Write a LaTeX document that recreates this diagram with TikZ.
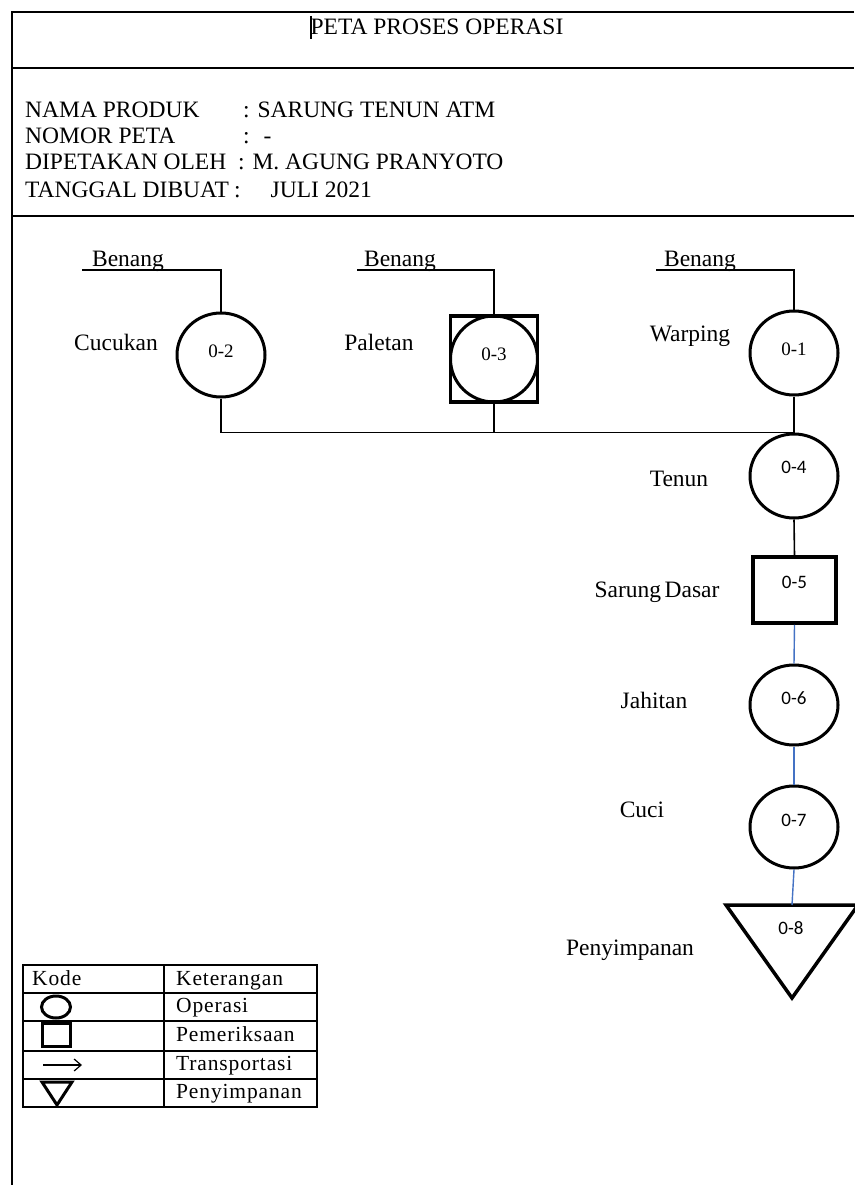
\documentclass[tikz,border=0pt]{standalone}
\usepackage{fontspec}
\setmainfont{Liberation Serif}
\newfontfamily\labsans{Carlito}
\newfontfamily\legfont[LetterSpace=4]{Liberation Serif}
\usetikzlibrary{shapes.geometric,arrows.meta}
\definecolor{bluel}{HTML}{4472C4}
\begin{document}
\begin{tikzpicture}[x=1pt,y=-1pt,
  frame/.style={line width=1.8pt},
  conn/.style={line width=1.6pt},
  bconn/.style={line width=1.4pt, draw=bluel},
  opcirc/.style={ellipse, draw, line width=3pt, minimum width=88pt, minimum height=84pt, inner sep=0pt},
  insp/.style={rectangle, draw, line width=3.5pt, inner sep=0pt},
  lbl/.style={font=\fontsize{23.5}{28}\selectfont, inner sep=0pt},
  numser/.style={font=\fontsize{19}{21}\selectfont},
  numsans/.style={font=\labsans\fontsize{19}{22}\selectfont},
  legtxt/.style={font=\legfont\fontsize{21.5}{26}\selectfont, anchor=base west, inner sep=0pt},
  grid/.style={line width=1.8pt},
]
\fill[white] (0,0) rectangle (854,1185);
\useasboundingbox (0,0) rectangle (854,1185);

% frame
\draw[frame] (854,12) -- (12,12) -- (12,1185);
\draw[frame] (12,68) -- (854,68);
\draw[frame] (12,216) -- (854,216);

% header
\node[lbl] (title) at (437,27) {PETA PROSES OPERASI};
\coordinate (cur1) at (311,16);
\coordinate (cur2) at (311,39);
\draw[line width=2pt] (cur1) -- (cur2);

\node[lbl, anchor=base west] (k1) at (25,118) {NAMA PRODUK};
\node[lbl, anchor=base west] (v1) at (243,118) {: SARUNG TENUN ATM};
\node[lbl, anchor=base west] (k2) at (25,144) {NOMOR PETA};
\node[lbl, anchor=base west] (v2) at (243,144) {:\hspace{14pt}-};
\node[lbl, anchor=base west] (k3) at (25,170) {DIPETAKAN OLEH};
\node[lbl, anchor=base west] (v3) at (238,170) {: M. AGUNG PRANYOTO};
\node[lbl, anchor=base west] (k4) at (25,197) {TANGGAL DIBUAT};
\node[lbl, anchor=base west] (v4) at (234,197) {:\hspace{30pt}JULI 2021};

% process symbols
\node[opcirc, label={[numser, yshift=4pt]center:0-2}] (c02) at (221,355) {};
\node[insp, minimum width=87pt, minimum height=86pt] (s03) at (494,359) {};
\node[opcirc, minimum width=87pt, minimum height=86pt, label={[numser, yshift=5pt]center:0-3}] (c03) at (494,359) {};
\node[opcirc, label={[numser, yshift=4pt]center:0-1}] (c01) at (794,353) {};
\node[opcirc, label={[numsans, yshift=9pt]center:0-4}] (c04) at (794,476) {};
\node[insp, minimum width=83pt, minimum height=66pt, label={[numsans, yshift=8pt]center:0-5}] (s05) at (794.5,590) {};
\node[opcirc, minimum height=80pt, label={[numsans, yshift=7pt]center:0-6}] (c06) at (794,705) {};
\node[opcirc, minimum height=82pt, label={[numsans, yshift=7pt]center:0-7}] (c07) at (794,827) {};
\coordinate (t08) at (792,905);
\coordinate (t08l) at (726,905);
\coordinate (t08r) at (858,905);
\coordinate (t08b) at (792,998);
\draw[line width=3.5pt, line join=miter] (t08l) -- (t08r) -- (t08b) -- cycle;
\node[numsans] (n08) at (791,928) {0-8};

% labels
\node[lbl] (lcucukan) at (116,342) {Cucukan};
\node[lbl] (lpaletan) at (379,342) {Paletan};
\node[lbl] (lwarping) at (690,336) {Warping};
\node[lbl] (ltenun) at (679,479) {Tenun};
\node[lbl] (lsarung) at (657,592) {Sarung\hspace{3.5pt}Dasar};
\node[lbl] (ljahitan) at (654,700) {Jahitan};
\node[lbl] (lcuci) at (642,810) {Cuci};
\node[lbl] (lpenyimpanan) at (630,950) {Penyimpanan};

% Benang inputs
\node[lbl, anchor=base] (b1) at (128,266) {Benang};
\node[lbl, anchor=base] (b2) at (400,266) {Benang};
\node[lbl, anchor=base] (b3) at (700,266) {Benang};
\coordinate (b1s) at (82,270);
\coordinate (b2s) at (357,270);
\coordinate (b3s) at (656,270);
\draw[conn] (b1s) -| (c02.north);
\draw[conn] (b2s) -| (s03.north);
\draw[conn] (b3s) -| (c01.north);

% connectors
\draw[conn] (c02.south) |- (c04.north);
\draw[conn] (s03.south) -- (s03.south |- c04.north);
\draw[conn] (c01.south) -- (c04.north);
\draw[conn] (c04.south) -- (s05.north);
\draw[bconn] (s05.south) -- (c06.north);
\draw[bconn] (c06.south) -- (c07.north);
\draw[bconn] (c07.south) -- (t08);

% legend
\draw[grid] (23,965) rectangle (317,1107);
\draw[grid] (23,993) -- (317,993);
\draw[grid] (23,1021) -- (317,1021);
\draw[grid] (23,1051) -- (317,1051);
\draw[grid] (23,1079) -- (317,1079);
\draw[grid] (164,965) -- (164,1107);
\node[legtxt] (hk) at (32,985) {Kode};
\node[legtxt] (hket) at (176,985) {Keterangan};
\node[legtxt] (lop) at (176,1012) {Operasi};
\node[legtxt] (lpem) at (176,1041) {Pemeriksaan};
\node[legtxt] (ltr) at (176,1070) {Transportasi};
\node[legtxt] (lpen) at (176,1098) {Penyimpanan};
\node[ellipse, draw, line width=3pt, minimum width=29pt, minimum height=22pt, inner sep=0pt] (symop) at (56,1007) {};
\node[rectangle, draw, line width=3.2pt, minimum width=28pt, minimum height=23pt, inner sep=0pt] (sympem) at (56.5,1035) {};
\coordinate (arrA) at (43,1065);
\coordinate (arrB) at (82,1065);
\draw[line width=1.2pt, -{Straight Barb[length=7pt,width=12pt]}] (arrA) -- (arrB);
\coordinate (tri1) at (42,1082);
\coordinate (tri2) at (72,1082);
\coordinate (tri3) at (57,1105);
\draw[line width=3pt, line join=miter] (tri1) -- (tri2) -- (tri3) -- cycle;
\end{tikzpicture}
\end{document}
